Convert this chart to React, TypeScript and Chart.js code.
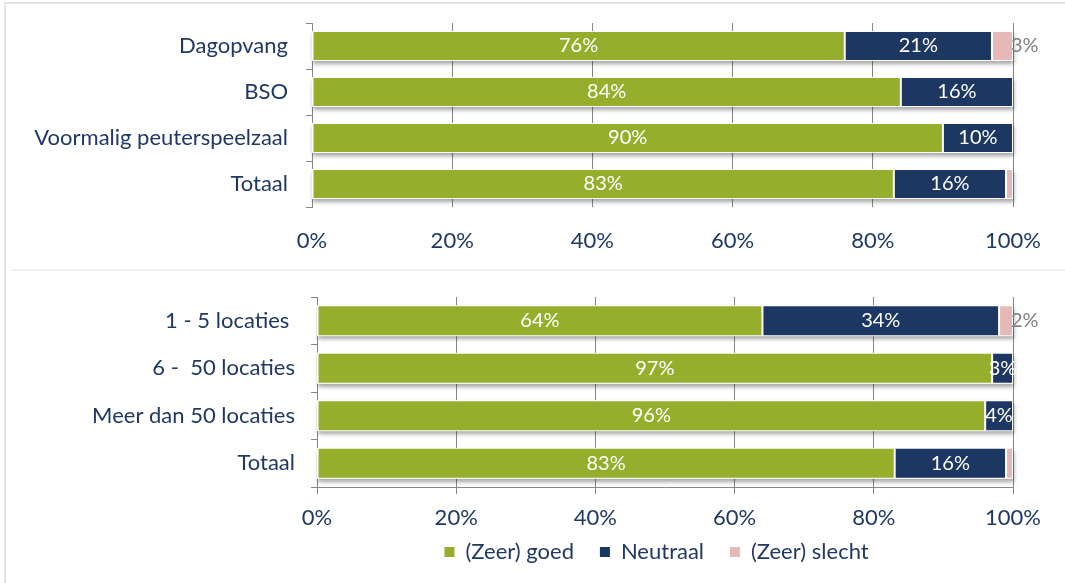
import React, { useEffect, useRef } from "react";
import { Chart, registerables } from "chart.js";
Chart.register(...registerables);

const seriesNames = ["(Zeer) goed", "Neutraal", "(Zeer) slecht"];
const seriesColors = ["#95AF2D", "#1C3762", "#E6B9B8"];

const topCategories = ["Dagopvang", "BSO", "Voormalig peuterspeelzaal", "Totaal"];
const topGoed = [76, 84, 90, 83];
const topNeutraal = [21, 16, 10, 16];
const topSlecht = [3, 0, 0, 1];

const bottomCategories = ["1 - 5 locaties ", "6 -  50 locaties", "Meer dan 50 locaties", "Totaal"];
const bottomGoed = [64, 97, 96, 83];
const bottomNeutraal = [34, 3, 4, 16];
const bottomSlecht = [2, 0, 0, 1];

const xTickValues = [0, 20, 40, 60, 80, 100];

const FONT = "Lato, 'Open Sans', sans-serif";
const NAVY_TEXT = "#1F3864";
const AXIS_GRAY = "#878787";
const LEGEND_SPACER = "   ";

const barDecor = {
  id: "barDecor",
  beforeDatasetsDraw(chart: any) {
    const ctx = chart.ctx;
    const xs = chart.scales.x;
    const meta0 = chart.getDatasetMeta(0);
    ctx.save();
    ctx.shadowColor = "rgba(0,0,0,0.35)";
    ctx.shadowBlur = 4;
    ctx.shadowOffsetX = 1;
    ctx.shadowOffsetY = 3;
    ctx.fillStyle = "#ffffff";
    meta0.data.forEach((bar: any, i: number) => {
      let total = 0;
      chart.data.datasets.forEach((ds: any) => (total += Number(ds.data[i]) || 0));
      const left = xs.getPixelForValue(0);
      const right = xs.getPixelForValue(total);
      const h = bar.height;
      ctx.fillRect(left, bar.y - h / 2, right - left, h);
    });
    ctx.restore();
  },
  afterDatasetsDraw(chart: any) {
    const ctx = chart.ctx;
    ctx.save();
    ctx.font = `20px ${FONT}`;
    ctx.textBaseline = "middle";
    chart.data.datasets.forEach((ds: any, di: number) => {
      const meta = chart.getDatasetMeta(di);
      meta.data.forEach((bar: any, i: number) => {
        const v = Number(ds.data[i]) || 0;
        if (!v) return;
        const label = `${v}%`;
        if (di === 2) {
          if (v < 2) return;
          ctx.fillStyle = "#808080";
          ctx.textAlign = "left";
          ctx.fillText(label, bar.x - 2, bar.y);
        } else {
          ctx.fillStyle = "#ffffff";
          ctx.textAlign = "center";
          ctx.fillText(label, (bar.x + bar.base) / 2, bar.y);
        }
      });
    });
    ctx.restore();
  },
};

function makeConfig(
  categories: string[],
  goed: number[],
  neutraal: number[],
  slecht: number[],
  o: {
    yWidth: number;
    padTop: number;
    padBottom: number;
    xHeight: number;
    xTickPad: number;
    xBorder: boolean;
    yLabelPad: number;
    legend: boolean;
  }
): any {
  const values = [goed, neutraal, slecht];
  return {
    type: "bar",
    data: {
      labels: categories,
      datasets: seriesNames.map((name, k) => ({
        label: name,
        data: values[k],
        backgroundColor: seriesColors[k],
        borderColor: "#ffffff",
        borderWidth: 1,
        borderSkipped: false,
        categoryPercentage: 1,
        barPercentage: 0.65,
      })),
    },
    options: {
      indexAxis: "y",
      responsive: false,
      animation: false,
      devicePixelRatio: 1,
      layout: { padding: { left: 0, right: 52, top: o.padTop, bottom: o.padBottom } },
      scales: {
        x: {
          stacked: true,
          min: 0,
          max: 100,
          afterBuildTicks: (s: any) => {
            s.ticks = xTickValues.map((v) => ({ value: v }));
          },
          afterFit: (s: any) => {
            s.height = o.xHeight;
          },
          grid: {
            display: true,
            drawOnChartArea: true,
            drawTicks: o.xBorder,
            tickLength: 7,
            color: AXIS_GRAY,
            lineWidth: 1,
          },
          border: { display: o.xBorder, color: AXIS_GRAY, width: 1 },
          ticks: {
            padding: o.xTickPad,
            color: NAVY_TEXT,
            font: { family: FONT, size: 22 },
            maxRotation: 0,
            callback: (v: any) => `${v}%`,
          },
        },
        y: {
          stacked: true,
          afterFit: (s: any) => {
            s.width = o.yWidth;
            s.paddingTop = 0;
            s.paddingBottom = 0;
          },
          grid: {
            display: true,
            drawOnChartArea: false,
            drawTicks: true,
            tickLength: 6,
            color: AXIS_GRAY,
            offset: true,
          },
          border: { display: true, color: AXIS_GRAY, width: 1 },
          ticks: {
            padding: o.yLabelPad,
            color: NAVY_TEXT,
            font: { family: FONT, size: 22 },
          },
        },
      },
      plugins: {
        tooltip: { enabled: false },
        legend: {
          display: o.legend,
          position: "bottom",
          fullSize: false,
          labels: {
            boxWidth: 10,
            boxHeight: 10,
            padding: 9,
            color: NAVY_TEXT,
            font: { family: FONT, size: 22 },
            generateLabels: (chart: any) =>
              chart.data.datasets.map((ds: any, i: number) => ({
                text: ds.label + LEGEND_SPACER,
                fillStyle: ds.backgroundColor,
                strokeStyle: ds.backgroundColor,
                lineWidth: 0,
                fontColor: NAVY_TEXT,
                hidden: false,
                datasetIndex: i,
              })),
          },
        },
      },
    },
    plugins: [barDecor],
  };
}

export default function App() {
  const topRef = useRef<HTMLCanvasElement>(null);
  const bottomRef = useRef<HTMLCanvasElement>(null);

  useEffect(() => {
    const c1 = new Chart(
      topRef.current as HTMLCanvasElement,
      makeConfig(topCategories, topGoed, topNeutraal, topSlecht, {
        yWidth: 312,
        padTop: 23,
        padBottom: 0,
        xHeight: 63,
        xTickPad: 21,
        xBorder: false,
        yLabelPad: 18,
        legend: false,
      })
    );
    const c2 = new Chart(
      bottomRef.current as HTMLCanvasElement,
      makeConfig(bottomCategories, bottomGoed, bottomNeutraal, bottomSlecht, {
        yWidth: 317,
        padTop: 27,
        padBottom: 10,
        xHeight: 45,
        xTickPad: 11,
        xBorder: true,
        yLabelPad: 16,
        legend: true,
      })
    );
    return () => {
      c1.destroy();
      c2.destroy();
    };
  }, []);

  return (
    <div
      style={{
        position: "fixed",
        left: 0,
        top: 0,
        width: 1065,
        height: 583,
        background: "#ffffff",
        overflow: "hidden",
      }}
    >
      <div style={{ position: "absolute", left: 4, top: 2, width: 1061, height: 2, background: "#E3E3E3" }} />
      <div style={{ position: "absolute", left: 4, top: 2, width: 2, height: 581, background: "#E3E3E3" }} />
      <div style={{ position: "absolute", left: 11, top: 269, width: 1054, height: 2, background: "#EFEFEF" }} />
      <canvas
        ref={topRef}
        width={1065}
        height={270}
        style={{ position: "absolute", left: 0, top: 0, width: 1065, height: 270 }}
      />
      <canvas
        ref={bottomRef}
        width={1065}
        height={313}
        style={{ position: "absolute", left: 0, top: 270, width: 1065, height: 313 }}
      />
    </div>
  );
}
